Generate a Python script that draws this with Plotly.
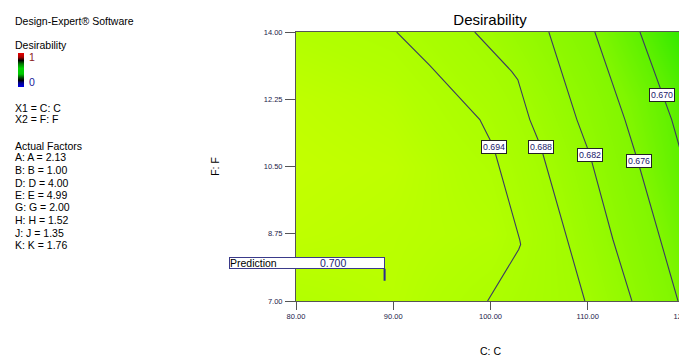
import plotly.graph_objects as go

# ---------------- data ----------------
C_grid = [80, 90, 100, 110, 120]
F_grid = [7.0, 8.75, 10.5, 12.25, 14.0]
# estimated desirability on the grid (rows = F, cols = C)
desirability = [
    [0.6970, 0.6990, 0.6938, 0.6876, 0.6750],   # F = 7.00
    [0.7010, 0.6995, 0.6975, 0.6852, 0.6726],   # F = 8.75
    [0.7025, 0.7010, 0.6952, 0.6831, 0.6700],   # F = 10.50
    [0.7010, 0.6985, 0.6913, 0.6805, 0.6685],   # F = 12.25
    [0.6970, 0.6943, 0.6870, 0.6770, 0.6640],   # F = 14.00
]

x_tickvals = [80, 90, 100, 110, 120]
x_ticktext = ["80.00", "90.00", "100.00", "110.00", "120.00"]
y_tickvals = [7.0, 8.75, 10.5, 12.25, 14.0]
y_ticktext = ["7.00", "8.75", "10.50", "12.25", "14.00"]

# contour lines (C, F points)
c694_C = [90.35, 93.75, 98.9, 99.7, 100.3, 103.0, 103.1, 102.9, 99.7]
c694_F = [14.0, 13.13, 11.72, 11.33, 11.02, 8.60, 8.47, 8.34, 7.0]
c688_C = [98.38, 102.19, 102.81, 104.04, 105.17, 107.85, 109.70]
c688_F = [14.0, 12.97, 12.76, 11.72, 11.02, 8.60, 7.0]
c682_C = [106.0, 108.88, 110.22, 112.59, 114.54]
c682_F = [14.0, 11.72, 10.81, 8.60, 7.0]
c676_C = [110.73, 113.82, 115.16, 117.43, 119.28]
c676_F = [14.0, 11.72, 10.63, 8.60, 7.0]
c670_C = [115.37, 118.63, 120.0]
c670_F = [14.0, 11.72, 10.50]

contour_levels = ["0.694", "0.688", "0.682", "0.676", "0.670"]
contour_C = [c694_C, c688_C, c682_C, c676_C, c670_C]
contour_F = [c694_F, c688_F, c682_F, c676_F, c670_F]
label_C = [100.39, 105.2, 110.25, 115.23, 117.68]
label_F = [11.0, 11.0, 10.81, 10.64, 12.37]

pred_C = 89.11
pred_F = 7.53
pred_value = "0.700"

factor_lines = ["A: A = 2.13", "B: B = 1.00", "D: D = 4.00", "E: E = 4.99",
                "G: G = 2.00", "H: H = 1.52", "J: J = 1.35", "K: K = 1.76"]

# ---------------- layout geometry ----------------
# the page body adds an 8px margin, so the figure is drawn 8px smaller
OFF = 8
W, H = 687 - OFF, 356 - OFF
ML, MR, MT = 296 - OFF, 2, 32 - OFF
PH = 269
MB = H - MT - PH
PW = W - ML - MR
PB = MT + PH


def px_x(p):
    return (p - OFF - ML) / PW


def px_y(p):
    return (PB - (p - OFF)) / PH


FONT = "Arial, Liberation Sans, sans-serif"

fig = go.Figure()

fig.add_trace(go.Heatmap(
    x=C_grid, y=F_grid, z=desirability, zsmooth="best",
    zmin=0.664, zmax=0.704, showscale=False, hoverinfo="skip",
    colorscale=[[0, "#2ee800"], [0.15, "#5cf000"], [0.3, "#80f600"],
                [0.6, "#a2fc00"], [0.825, "#b2ff00"], [1, "#c8ff00"]],
))

for lv, cx, fy in zip(contour_levels, contour_C, contour_F):
    fig.add_trace(go.Scatter(x=cx, y=fy, mode="lines", name=lv,
                             line=dict(color="#3c3c60", width=1.1),
                             hoverinfo="skip", showlegend=False))

annotations = []
for lv, lx, ly in zip(contour_levels, label_C, label_F):
    annotations.append(dict(
        x=lx, y=ly, xref="x", yref="y", text=lv, showarrow=False,
        font=dict(family=FONT, size=8.8, color="#20206a"),
        bgcolor="white", bordercolor="#222222", borderwidth=1, borderpad=1,
    ))

# prediction flag
annotations.append(dict(
    x=pred_C, y=pred_F, xref="x", yref="y", text="Prediction",
    showarrow=True, arrowhead=0, arrowwidth=2, arrowcolor="#2b2b8f",
    ax=0, ay=-12, xanchor="right", yanchor="bottom",
    width=154, height=10, align="left",
    font=dict(family=FONT, size=10.5, color="#000000"),
    bgcolor="white", bordercolor="#3a3a8a", borderwidth=1, borderpad=0,
))
annotations.append(dict(
    x=pred_C, y=pred_F, xref="x", yref="y", text=pred_value,
    showarrow=False, xshift=-52, yshift=18,
    font=dict(family=FONT, size=10.5, color="#1a1a70"),
))

# left panel text
left_items = [("Design-Expert® Software", 20.5), ("Desirability", 44.7),
              ("X1 = C: C", 107.7), ("X2 = F: F", 119.3),
              ("Actual Factors", 145.7)]
factor_y = [156.7, 170.0, 182.6, 195.0, 207.4, 220.0, 232.6, 245.4]
left_items += list(zip(factor_lines, factor_y))
for txt, yy in left_items:
    annotations.append(dict(
        x=px_x(13), y=px_y(yy), xref="paper", yref="paper", text=txt,
        showarrow=False, xanchor="left", yanchor="middle",
        font=dict(family=FONT, size=10.5, color="#000000"),
    ))
annotations.append(dict(x=px_x(26.5), y=px_y(57), xref="paper", yref="paper",
                        text="1", showarrow=False, xanchor="left", yanchor="middle",
                        font=dict(family=FONT, size=10.5, color="#8b1a1a")))
annotations.append(dict(x=px_x(26.5), y=px_y(82), xref="paper", yref="paper",
                        text="0", showarrow=False, xanchor="left", yanchor="middle",
                        font=dict(family=FONT, size=10.5, color="#1a1a9a")))
# x axis title
annotations.append(dict(x=px_x(490), y=px_y(351.5), xref="paper", yref="paper",
                        text="C: C", showarrow=False, xanchor="center", yanchor="middle",
                        font=dict(family=FONT, size=10.5, color="#000000")))

# small legend colour bar (top red -> black -> green -> black -> blue)
bar_stops = [(0.0, (230, 0, 0)), (0.12, (170, 0, 0)), (0.22, (0, 0, 0)),
             (0.32, (0, 120, 0)), (0.45, (0, 210, 0)), (0.62, (0, 200, 0)),
             (0.72, (0, 80, 0)), (0.80, (0, 0, 0)), (0.88, (0, 0, 140)),
             (1.0, (0, 0, 230))]


def bar_color(t):
    for (t0, c0), (t1, c1) in zip(bar_stops[:-1], bar_stops[1:]):
        if t0 <= t <= t1:
            f = (t - t0) / (t1 - t0) if t1 > t0 else 0
            return "rgb(%d,%d,%d)" % tuple(round(a + (b - a) * f) for a, b in zip(c0, c1))
    return "rgb(0,0,230)"


shapes = []
bar_top, bar_bot, bar_l, bar_r = 53.0, 87.0, 18.0, 24.0
n = 34
for i in range(n):
    y0 = bar_top + (bar_bot - bar_top) * i / n
    y1 = bar_top + (bar_bot - bar_top) * (i + 1) / n
    shapes.append(dict(type="rect", xref="paper", yref="paper",
                       x0=px_x(bar_l), x1=px_x(bar_r), y0=px_y(y1), y1=px_y(y0),
                       line=dict(width=0), fillcolor=bar_color((i + 0.5) / n)))

fig.update_layout(
    width=W, height=H,
    margin=dict(l=ML, r=MR, t=MT, b=MB, autoexpand=False),
    paper_bgcolor="white", plot_bgcolor="white",
    showlegend=False,
    title=dict(text="Desirability", xref="paper", x=px_x(490), xanchor="center",
               yref="container", y=1 - (20 - OFF) / H, yanchor="middle",
               font=dict(family=FONT, size=15, color="#000000")),
    annotations=annotations,
    shapes=shapes,
    xaxis=dict(range=[80, 120], tickvals=x_tickvals, ticktext=x_ticktext,
               ticks="outside", ticklen=8, tickcolor="#555555", tickwidth=1,
               ticklabeloverflow="allow",
               showgrid=False, zeroline=False, showline=True, linecolor="#555555",
               mirror=True, automargin=False,
               tickfont=dict(family=FONT, size=7.5, color="#22224a")),
    yaxis=dict(range=[7, 14], tickvals=y_tickvals, ticktext=y_ticktext,
               ticks="outside", ticklen=10, tickcolor="#555555", tickwidth=1,
               ticklabelstandoff=1,
               showgrid=False, zeroline=False, showline=True, linecolor="#555555",
               mirror=True, automargin=False,
               tickfont=dict(family=FONT, size=7.5, color="#22224a"),
               title=dict(text="F: F", standoff=42,
                          font=dict(family=FONT, size=10.5, color="#000000"))),
)

fig.write_html("out.html")
